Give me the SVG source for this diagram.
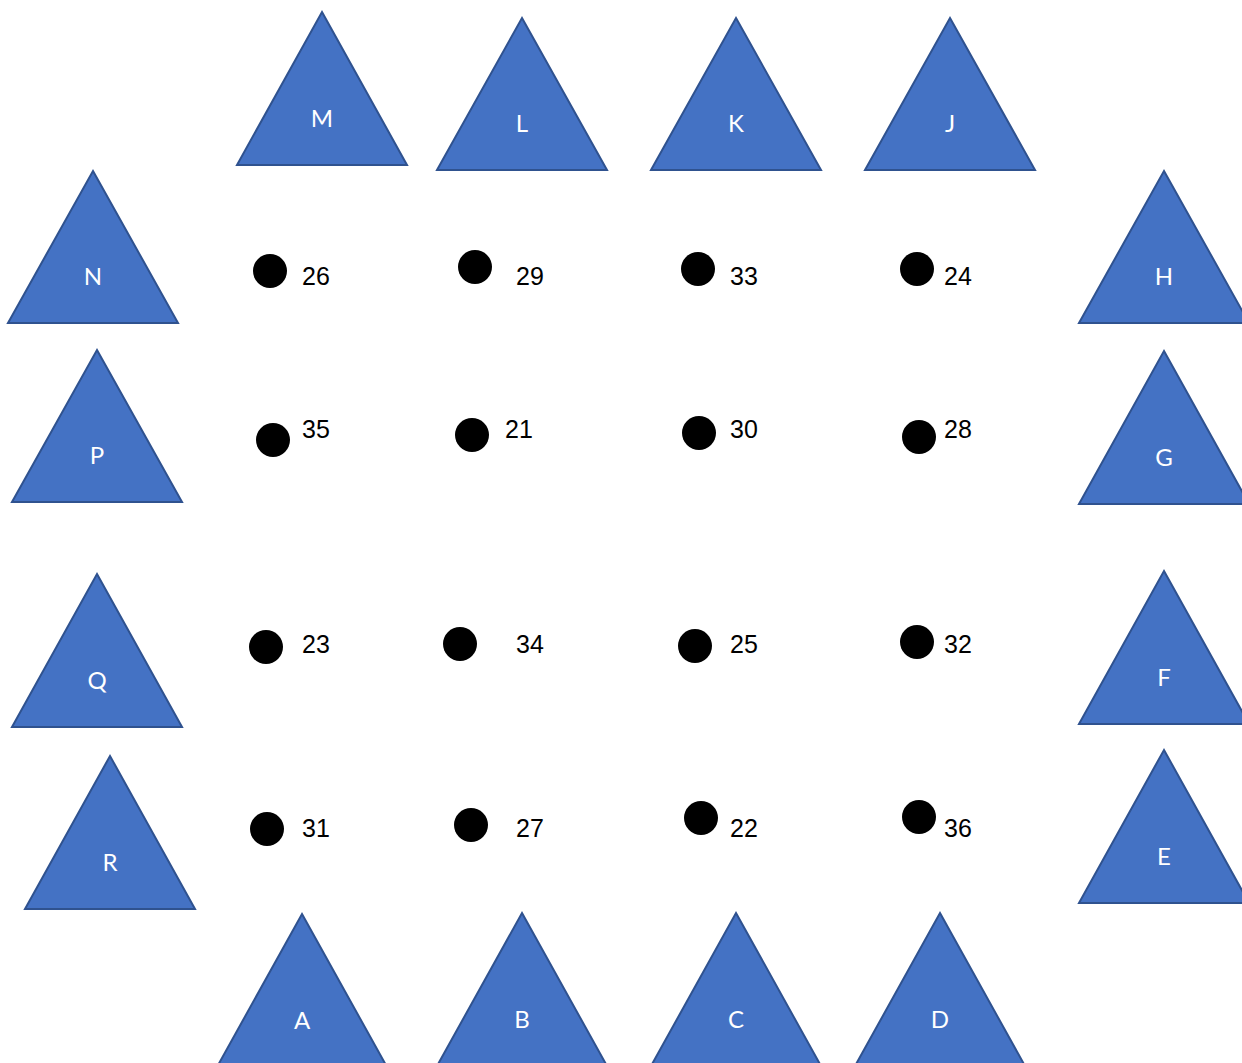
<svg xmlns="http://www.w3.org/2000/svg" width="1242" height="1063" viewBox="0 0 1242 1063">
<style>
.tri{fill:#4472C4;stroke:#2F528F;stroke-width:2}
.tl{fill:#fff;font-family:Lato,"Open Sans","Liberation Sans",sans-serif;font-size:24px;text-anchor:middle}
.dot{fill:#000}
.num{fill:#000;font-family:"Liberation Sans",Arial,sans-serif;font-size:25px}
</style>
<rect width="1242" height="1063" fill="#fff"/>
<g id="M"><polygon class="tri" points="322,12 407,165 237,165"/><text class="tl" x="322" y="127">M</text></g>
<g id="L"><polygon class="tri" points="522,18 607,170 437,170"/><text class="tl" x="522" y="132">L</text></g>
<g id="K"><polygon class="tri" points="736,18 821,170 651,170"/><text class="tl" x="736" y="132">K</text></g>
<g id="J"><polygon class="tri" points="950,18 1035,170 865,170"/><text class="tl" x="950" y="132">J</text></g>
<g id="N"><polygon class="tri" points="93,171 178,323 8,323"/><text class="tl" x="93" y="285">N</text></g>
<g id="H"><polygon class="tri" points="1164,171 1249,323 1079,323"/><text class="tl" x="1164" y="285">H</text></g>
<g id="P"><polygon class="tri" points="97,350 182,502 12,502"/><text class="tl" x="97" y="464">P</text></g>
<g id="G"><polygon class="tri" points="1164,351 1249,504 1079,504"/><text class="tl" x="1164" y="466">G</text></g>
<g id="Q"><polygon class="tri" points="97,574 182,727 12,727"/><text class="tl" x="97" y="689">Q</text></g>
<g id="F"><polygon class="tri" points="1164,571 1249,724 1079,724"/><text class="tl" x="1164" y="686">F</text></g>
<g id="R"><polygon class="tri" points="110,756 195,909 25,909"/><text class="tl" x="110" y="871">R</text></g>
<g id="E"><polygon class="tri" points="1164,750 1249,903 1079,903"/><text class="tl" x="1164" y="865">E</text></g>
<g id="A"><polygon class="tri" points="302,914 387,1067 217,1067"/><text class="tl" x="302" y="1029">A</text></g>
<g id="B"><polygon class="tri" points="522,913 607,1066 437,1066"/><text class="tl" x="522" y="1028">B</text></g>
<g id="C"><polygon class="tri" points="736,913 821,1066 651,1066"/><text class="tl" x="736" y="1028">C</text></g>
<g id="D"><polygon class="tri" points="940,913 1025,1066 855,1066"/><text class="tl" x="940" y="1028">D</text></g>
<g id="n26"><circle class="dot" cx="270" cy="271" r="17"/><text class="num" x="302" y="285">26</text></g>
<g id="n29"><circle class="dot" cx="475" cy="267" r="17"/><text class="num" x="516" y="285">29</text></g>
<g id="n33"><circle class="dot" cx="698" cy="269" r="17"/><text class="num" x="730" y="285">33</text></g>
<g id="n24"><circle class="dot" cx="917" cy="269" r="17"/><text class="num" x="944" y="285">24</text></g>
<g id="n35"><circle class="dot" cx="273" cy="440" r="17"/><text class="num" x="302" y="438">35</text></g>
<g id="n21"><circle class="dot" cx="472" cy="435" r="17"/><text class="num" x="505" y="438">21</text></g>
<g id="n30"><circle class="dot" cx="699" cy="433" r="17"/><text class="num" x="730" y="438">30</text></g>
<g id="n28"><circle class="dot" cx="919" cy="437" r="17"/><text class="num" x="944" y="438">28</text></g>
<g id="n23"><circle class="dot" cx="266" cy="647" r="17"/><text class="num" x="302" y="653">23</text></g>
<g id="n34"><circle class="dot" cx="460" cy="644" r="17"/><text class="num" x="516" y="653">34</text></g>
<g id="n25"><circle class="dot" cx="695" cy="646" r="17"/><text class="num" x="730" y="653">25</text></g>
<g id="n32"><circle class="dot" cx="917" cy="642" r="17"/><text class="num" x="944" y="653">32</text></g>
<g id="n31"><circle class="dot" cx="267" cy="829" r="17"/><text class="num" x="302" y="837">31</text></g>
<g id="n27"><circle class="dot" cx="471" cy="825" r="17"/><text class="num" x="516" y="837">27</text></g>
<g id="n22"><circle class="dot" cx="701" cy="818" r="17"/><text class="num" x="730" y="837">22</text></g>
<g id="n36"><circle class="dot" cx="919" cy="817" r="17"/><text class="num" x="944" y="837">36</text></g>
<g id="connectors"/>
</svg>
